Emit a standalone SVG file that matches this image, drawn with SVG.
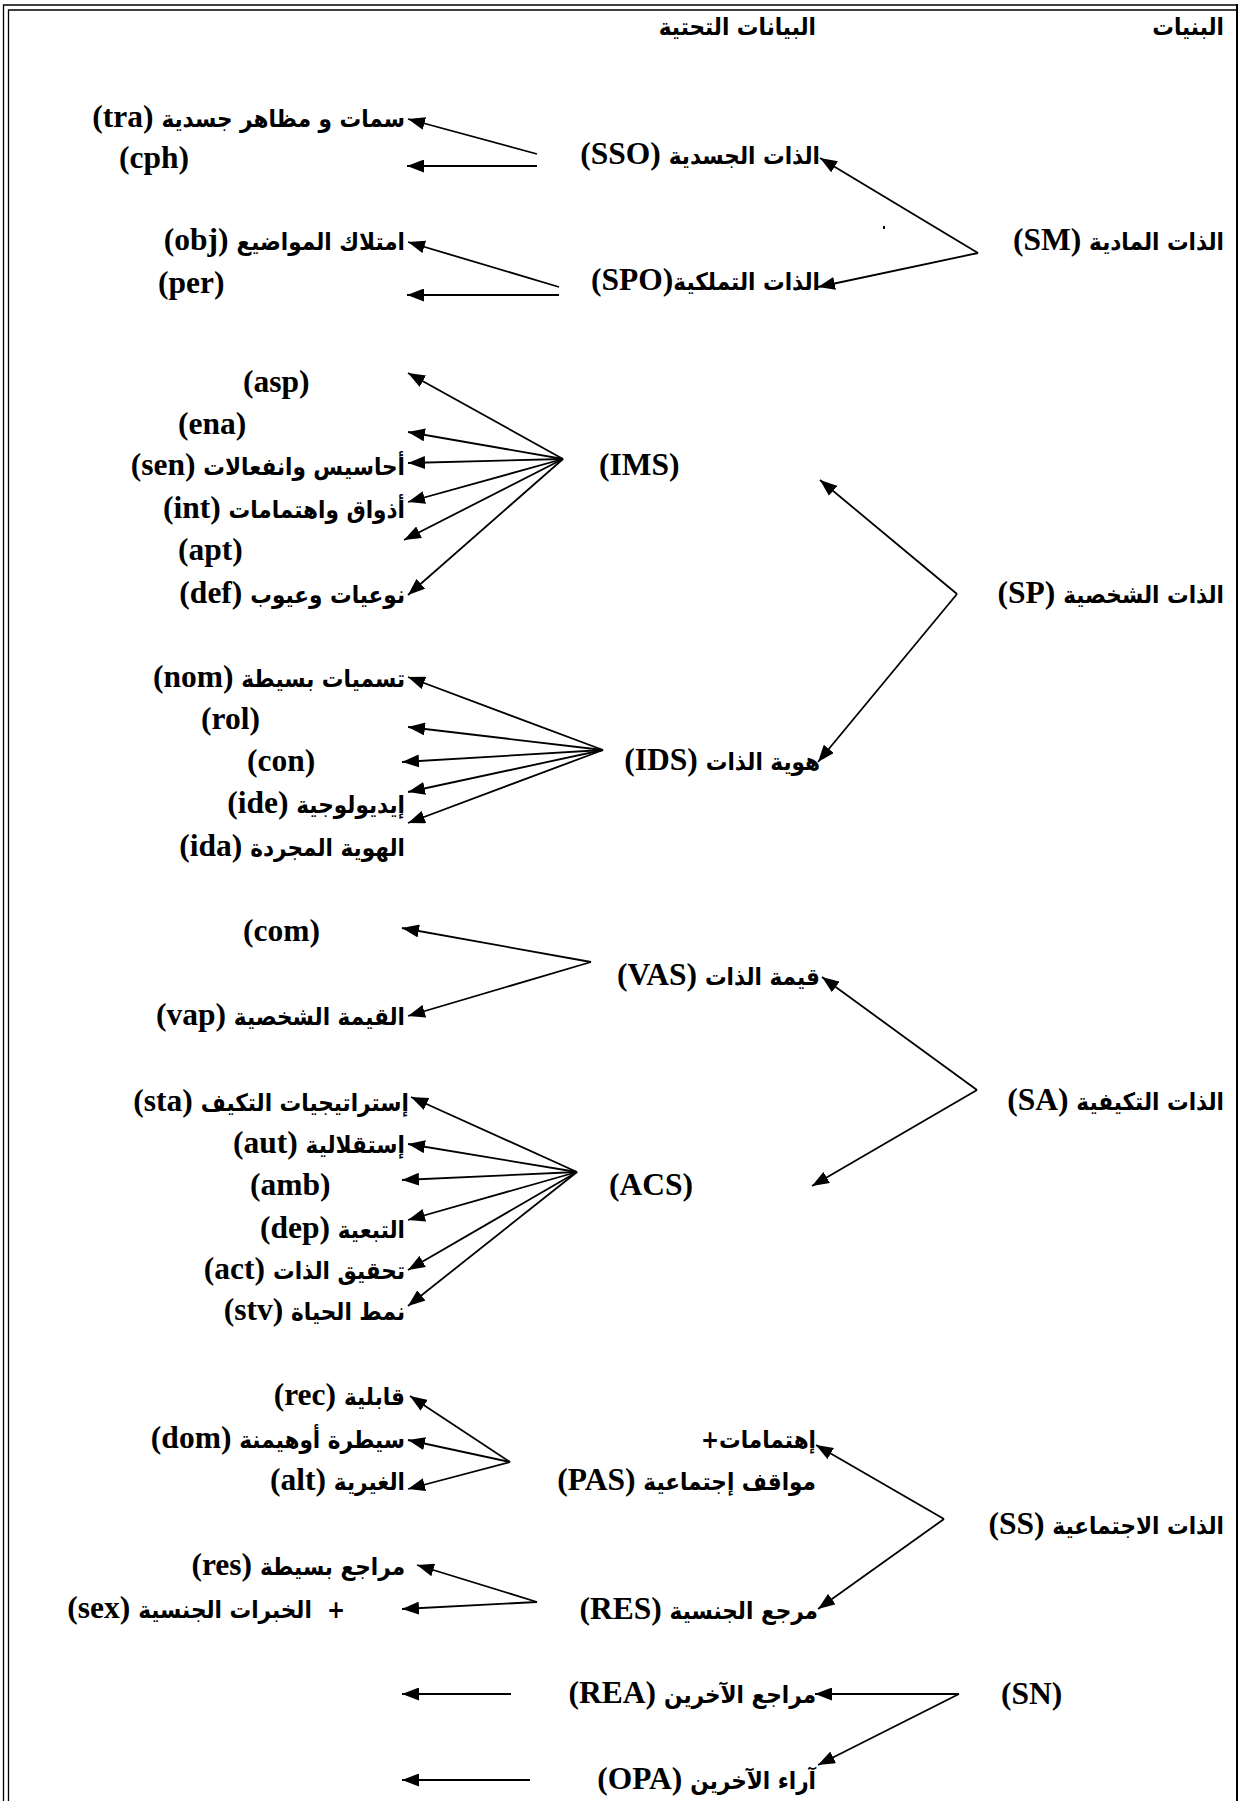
<svg xmlns="http://www.w3.org/2000/svg" width="1239" height="1801" viewBox="0 0 1239 1801">
<style>
.t{font-family:"Liberation Serif","DejaVu Sans",serif;font-weight:700;font-size:31.5px;fill:#000}
.r{direction:rtl;text-anchor:start}
.a{font-family:"DejaVu Sans Condensed","DejaVu Sans",sans-serif;font-stretch:condensed;font-size:24px}
.c line{stroke:#000;stroke-width:1.8;marker-end:url(#ah)}
.b{fill:none;stroke:#000;stroke-width:1.3}
</style>
<defs>
<marker id="ah" markerUnits="userSpaceOnUse" markerWidth="17" markerHeight="13" refX="17" refY="6.5" orient="auto"><path d="M0,0 L17,6.5 L0,13 Z" fill="#000"/></marker>
</defs>
<rect width="1239" height="1801" fill="#fff"/>
<g id="border">
<path class="b" d="M3.5,1801 V5 H1237"/>
<path class="b" d="M8.5,1801 V10 H1237"/>
<line x1="1237" y1="4" x2="1237" y2="1801" stroke="#000" stroke-width="2"/>
<rect x="883" y="226" width="2" height="3" fill="#000"/>
</g>
<g id="headers">
<text class="t r" x="1224" y="35"><tspan class="a">البنيات</tspan></text>
<text class="t r" x="816" y="35"><tspan class="a">البيانات التحتية</tspan></text>
</g>
<g id="SM"><text class="t r" x="1224" y="250"><tspan class="a">الذات المادية</tspan> (SM)</text></g>
<g id="SP"><text class="t r" x="1224" y="603"><tspan class="a">الذات الشخصية</tspan> (SP)</text></g>
<g id="SA"><text class="t r" x="1224" y="1110"><tspan class="a">الذات التكيفية</tspan> (SA)</text></g>
<g id="SS"><text class="t r" x="1224" y="1534"><tspan class="a">الذات الاجتماعية</tspan> (SS)</text></g>
<g id="SN"><text class="t" x="1001" y="1704">(SN)</text></g>

<g id="SSO"><text class="t r" x="820" y="164"><tspan class="a">الذات الجسدية</tspan> (SSO)</text></g>
<g id="SPO"><text class="t r" x="820" y="290"><tspan class="a">الذات التملكية</tspan>(SPO)</text></g>
<g id="IMS"><text class="t" x="599" y="475">(IMS)</text></g>
<g id="IDS"><text class="t r" x="820" y="770"><tspan class="a">هوية الذات</tspan> (IDS)</text></g>
<g id="VAS"><text class="t r" x="820" y="985"><tspan class="a">قيمة الذات</tspan> (VAS)</text></g>
<g id="ACS"><text class="t" x="609" y="1195">(ACS)</text></g>
<g id="PAS">
<text class="t r" x="816" y="1448"><tspan class="a">إهتمامات+</tspan></text>
<text class="t r" x="816" y="1490"><tspan class="a">مواقف إجتماعية</tspan> (PAS)</text>
</g>
<g id="RES"><text class="t r" x="818" y="1619"><tspan class="a">مرجع الجنسية</tspan> (RES)</text></g>
<g id="REA"><text class="t r" x="816" y="1703"><tspan class="a">مراجع الآخرين</tspan> (REA)</text></g>
<g id="OPA"><text class="t r" x="816" y="1789"><tspan class="a">آراء الآخرين</tspan> (OPA)</text></g>

<g id="tra"><text class="t r" x="405" y="127"><tspan class="a">سمات و مظاهر جسدية</tspan> (tra)</text></g>
<g id="cph"><text class="t" x="119" y="168">(cph)</text></g>
<g id="obj"><text class="t r" x="405" y="250"><tspan class="a">امتلاك المواضيع</tspan> (obj)</text></g>
<g id="per"><text class="t" x="158" y="293">(per)</text></g>
<g id="asp"><text class="t" x="243" y="392">(asp)</text></g>
<g id="ena"><text class="t" x="178" y="434">(ena)</text></g>
<g id="sen"><text class="t r" x="405" y="475"><tspan class="a">أحاسيس وانفعالات</tspan> (sen)</text></g>
<g id="int"><text class="t r" x="405" y="518"><tspan class="a">أذواق واهتمامات</tspan> (int)</text></g>
<g id="apt"><text class="t" x="178" y="560">(apt)</text></g>
<g id="def"><text class="t r" x="405" y="603"><tspan class="a">نوعيات وعيوب</tspan> (def)</text></g>
<g id="nom"><text class="t r" x="405" y="687"><tspan class="a">تسميات بسيطة</tspan> (nom)</text></g>
<g id="rol"><text class="t" x="201" y="729">(rol)</text></g>
<g id="con"><text class="t" x="247" y="771">(con)</text></g>
<g id="ide"><text class="t r" x="405" y="813"><tspan class="a">إيديولوجية</tspan> (ide)</text></g>
<g id="ida"><text class="t r" x="405" y="856"><tspan class="a">الهوية المجردة</tspan> (ida)</text></g>
<g id="com"><text class="t" x="243" y="941">(com)</text></g>
<g id="vap"><text class="t r" x="405" y="1025"><tspan class="a">القيمة الشخصية</tspan> (vap)</text></g>
<g id="sta"><text class="t r" x="409" y="1111"><tspan class="a">إستراتيجيات التكيف</tspan> (sta)</text></g>
<g id="aut"><text class="t r" x="405" y="1153"><tspan class="a">إستقلالية</tspan> (aut)</text></g>
<g id="amb"><text class="t" x="250" y="1195">(amb)</text></g>
<g id="dep"><text class="t r" x="405" y="1238"><tspan class="a">التبعية</tspan> (dep)</text></g>
<g id="act"><text class="t r" x="405" y="1279"><tspan class="a">تحقيق الذات</tspan> (act)</text></g>
<g id="stv"><text class="t r" x="405" y="1320"><tspan class="a">نمط الحياة</tspan> (stv)</text></g>
<g id="rec"><text class="t r" x="405" y="1405"><tspan class="a">قابلية</tspan> (rec)</text></g>
<g id="dom"><text class="t r" x="405" y="1448"><tspan class="a">سيطرة أوهيمنة</tspan> (dom)</text></g>
<g id="alt"><text class="t r" x="405" y="1490"><tspan class="a">الغيرية</tspan> (alt)</text></g>
<g id="res"><text class="t r" x="405" y="1575"><tspan class="a">مراجع بسيطة</tspan> (res)</text></g>
<g id="sex"><text class="t r" x="345" y="1618" xml:space="preserve"><tspan class="a">+  الخبرات الجنسية</tspan> (sex)</text></g>

<g id="connectors" class="c">
<line x1="978" y1="253" x2="820" y2="158"/>
<line x1="978" y1="253" x2="818" y2="287"/>
<line x1="537" y1="154" x2="408" y2="119"/>
<line x1="537" y1="166" x2="407" y2="166"/>
<line x1="559" y1="287" x2="408" y2="242"/>
<line x1="559" y1="295" x2="407" y2="295"/>
<line x1="957" y1="594" x2="820" y2="480"/>
<line x1="957" y1="594" x2="818" y2="762"/>
<line x1="563" y1="459" x2="408" y2="373"/>
<line x1="563" y1="459" x2="408" y2="432"/>
<line x1="563" y1="459" x2="408" y2="463"/>
<line x1="563" y1="459" x2="408" y2="502"/>
<line x1="563" y1="459" x2="404" y2="540"/>
<line x1="563" y1="459" x2="408" y2="595"/>
<line x1="603" y1="750" x2="408" y2="677"/>
<line x1="603" y1="750" x2="408" y2="727"/>
<line x1="603" y1="750" x2="402" y2="762"/>
<line x1="603" y1="750" x2="408" y2="792"/>
<line x1="603" y1="750" x2="408" y2="823"/>
<line x1="591" y1="962" x2="402" y2="928"/>
<line x1="591" y1="962" x2="408" y2="1016"/>
<line x1="977" y1="1090" x2="822" y2="977"/>
<line x1="977" y1="1090" x2="812" y2="1186"/>
<line x1="577" y1="1172" x2="411" y2="1097"/>
<line x1="577" y1="1172" x2="408" y2="1144"/>
<line x1="577" y1="1172" x2="402" y2="1180"/>
<line x1="577" y1="1172" x2="408" y2="1220"/>
<line x1="577" y1="1172" x2="408" y2="1270"/>
<line x1="577" y1="1172" x2="408" y2="1306"/>
<line x1="944" y1="1519" x2="816" y2="1445"/>
<line x1="944" y1="1519" x2="818" y2="1609"/>
<line x1="510" y1="1462" x2="410" y2="1396"/>
<line x1="510" y1="1462" x2="408" y2="1440"/>
<line x1="510" y1="1462" x2="408" y2="1489"/>
<line x1="537" y1="1602" x2="417" y2="1565"/>
<line x1="537" y1="1602" x2="402" y2="1609"/>
<line x1="959" y1="1694" x2="815" y2="1694"/>
<line x1="959" y1="1694" x2="818" y2="1765"/>
<line x1="511" y1="1694" x2="402" y2="1694"/>
<line x1="530" y1="1780" x2="402" y2="1780"/>
</g>
</svg>
